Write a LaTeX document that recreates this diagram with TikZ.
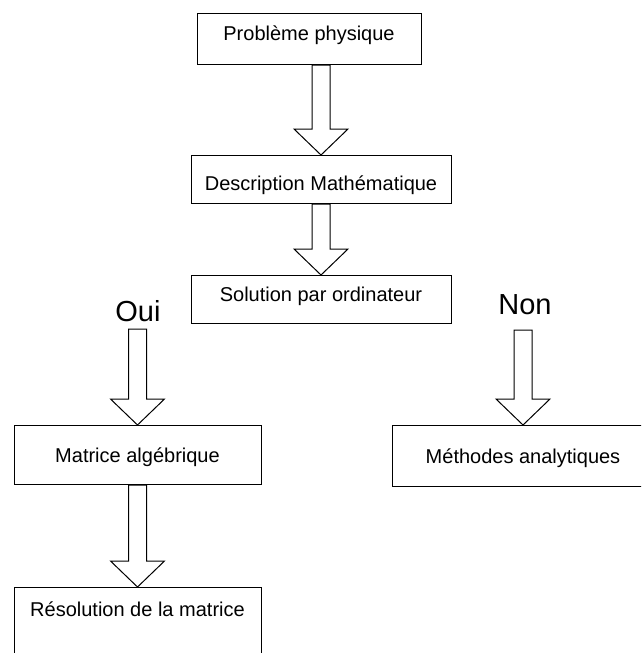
\documentclass[tikz,border=0pt]{standalone}
\usepackage{fontspec}
\setmainfont{Liberation Sans}
\usetikzlibrary{calc}

\newcommand{\fatarrow}[2]{%
    \draw[fat] let \p1=(#1), \p2=(#2) in
        (\x1-9pt,\y1) -- (\x1-9pt,\y2+26pt) -- (\x1-27pt,\y2+26pt) -- (\x2,\y2)
        -- (\x1+27pt,\y2+26pt) -- (\x1+9pt,\y2+26pt) -- (\x1+9pt,\y1) -- cycle;}

\begin{document}
\begin{tikzpicture}[x=1pt, y=-1pt, line width=1pt,
        box/.style={draw, anchor=north, inner sep=0pt, font=\fontsize{20}{24}\selectfont},
        big/.style={anchor=base, font=\fontsize{29}{34}\selectfont},
        fat/.style={draw, fill=white, line join=miter}]
        \useasboundingbox (0,0) rectangle (641,653);
        \clip (0,0) rectangle (641,653);

        \node[box, minimum width=224pt, text height=27pt, text depth=24pt] (prob) at (309,13) {Problème physique};
        \node[box, minimum width=260pt, text height=35pt, text depth=13pt] (desc) at (321,155) {Description Mathématique};
        \node[box, minimum width=260pt, text height=26pt, text depth=22pt] (sol) at (321,275) {Solution par ordinateur};
        \node[box, minimum width=247pt, text height=37pt, text depth=22pt] (mat) at (137.5,425) {Matrice algébrique};
        \node[box, minimum width=262pt, text height=38pt, text depth=23pt] (meth) at (523,425) {Méthodes analytiques};
        \node[box, minimum width=247pt, text height=29pt, text depth=50pt] (res) at (137.5,587) {Résolution de la matrice};

        \node[big] (oui) at (138,321) {Oui};
        \node[big] (non) at (525,314) {Non};

        \coordinate (ouiA) at (137.5,329);
        \coordinate (nonA) at (523,330);

        \fatarrow{prob.south -| desc.north}{desc.north}
        \fatarrow{desc.south}{sol.north}
        \fatarrow{ouiA}{mat.north}
        \fatarrow{nonA}{meth.north}
        \fatarrow{mat.south}{res.north}

    \end{tikzpicture}
\end{document}
